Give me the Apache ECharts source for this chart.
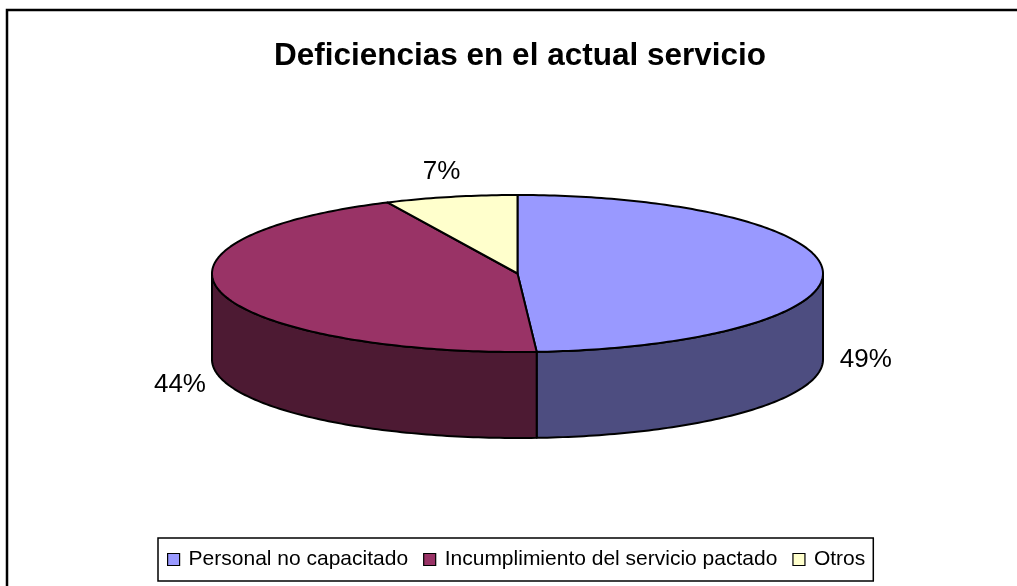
<!DOCTYPE html>
<html>
<head>
<meta charset="utf-8">
<script src="https://cdn.jsdelivr.net/npm/echarts@6/dist/echarts.min.js"></script>
<style>
html,body{margin:0;padding:0;background:#fff;}
#chart{width:1017px;height:586px;}
</style>
</head>
<body>
<div id="chart"></div>
<script>
// ---- data ----
var categories = ['Personal no capacitado', 'Incumplimiento del servicio pactado', 'Otros'];
var values = [49, 44, 7];
var labels = ['49%', '44%', '7%'];
var topColors = ['#9999FF', '#993366', '#FFFFCC'];
var sideColors = ['#4D4D80', '#4D1A33', '#80806A'];
var titleText = 'Deficiencias en el actual servicio';

var FONT = '"Liberation Sans", Arial, sans-serif';
var total = values.reduce(function (a, b) { return a + b; }, 0);
var starts = [], ends = [];
(function () {
  var acc = 0;
  for (var i = 0; i < values.length; i++) {
    starts.push(acc / total * 360);
    acc += values[i];
    ends.push(acc / total * 360);
  }
})();

// geometry of the 3D pie (projection settings)
var G = { cx: 517.5, cy: 273.5, rx: 305.5, ry: 78.5, depth: 86 };

function pt(tDeg, dy) {
  var t = tDeg * Math.PI / 180;
  return [G.cx + G.rx * Math.sin(t), G.cy - G.ry * Math.cos(t) + (dy || 0)];
}
function arc(a, b, dy) {
  var pts = [];
  var n = Math.max(2, Math.ceil(Math.abs(b - a) / 1));
  for (var k = 0; k <= n; k++) pts.push(pt(a + (b - a) * k / n, dy));
  return pts;
}

function makeRender(i) {
  return function (params, api) {
    var a = starts[i], b = ends[i];
    var children = [];
    // side wall (front half only: 90..270)
    var sa = Math.max(a, 90), sb = Math.min(b, 270);
    if (sb > sa) {
      var topEdge = arc(sa, sb, 0);
      var botEdge = arc(sb, sa, G.depth);
      children.push({
        type: 'polygon',
        shape: { points: topEdge.concat(botEdge) },
        style: { fill: sideColors[i], stroke: '#000', lineWidth: 2, lineJoin: 'round' }
      });
    }
    // top face
    var topPts = [[G.cx, G.cy]].concat(arc(a, b, 0));
    children.push({
      type: 'polygon',
      shape: { points: topPts },
      style: { fill: topColors[i], stroke: '#000', lineWidth: 2, lineJoin: 'round' }
    });
    // label
    var m = (a + b) / 2 * Math.PI / 180;
    var s = Math.sin(m), c = Math.cos(m);
    var lx = G.cx + (G.rx + 43) * s;
    var ly = G.cy - (G.ry + 30) * c + (G.depth + 4) * s * s;
    children.push({
      type: 'text',
      x: lx, y: ly,
      style: {
        text: labels[i], fill: '#000', font: '26px ' + FONT,
        align: 'center', verticalAlign: 'middle'
      }
    });
    return { type: 'group', children: children };
  };
}

var series = categories.map(function (name, i) {
  return {
    type: 'custom',
    name: name,
    coordinateSystem: 'none',
    data: [[values[i]]],
    itemStyle: { color: topColors[i] },
    renderItem: makeRender(i),
    silent: true,
    animation: false
  };
});

var chart = echarts.init(document.getElementById('chart'), null, { renderer: 'canvas' });
chart.setOption({
  backgroundColor: '#fff',
  animation: false,
  title: {
    text: titleText,
    left: 269,
    top: 35,
    textStyle: { fontFamily: FONT, fontSize: 31.5, fontWeight: 'bold', color: '#000' }
  },
  legend: {
    data: categories,
    left: 158,
    top: 538,
    orient: 'horizontal',
    icon: 'rect',
    itemWidth: 12,
    itemHeight: 12,
    itemGap: 15,
    padding: [11, 8, 11, 9],
    borderColor: '#000',
    borderWidth: 1.5,
    backgroundColor: '#fff',
    itemStyle: { borderColor: '#000', borderWidth: 1.2 },
    textStyle: { fontFamily: FONT, fontSize: 21, color: '#000', padding: [0, 0, 0, 4] },
    selectedMode: false
  },
  graphic: [
    {
      type: 'polyline',
      shape: { points: [[7, 586], [7, 10], [1017, 10]] },
      style: { stroke: '#000', lineWidth: 2.5, fill: null }
    }
  ],
  series: series
});
</script>
</body>
</html>
